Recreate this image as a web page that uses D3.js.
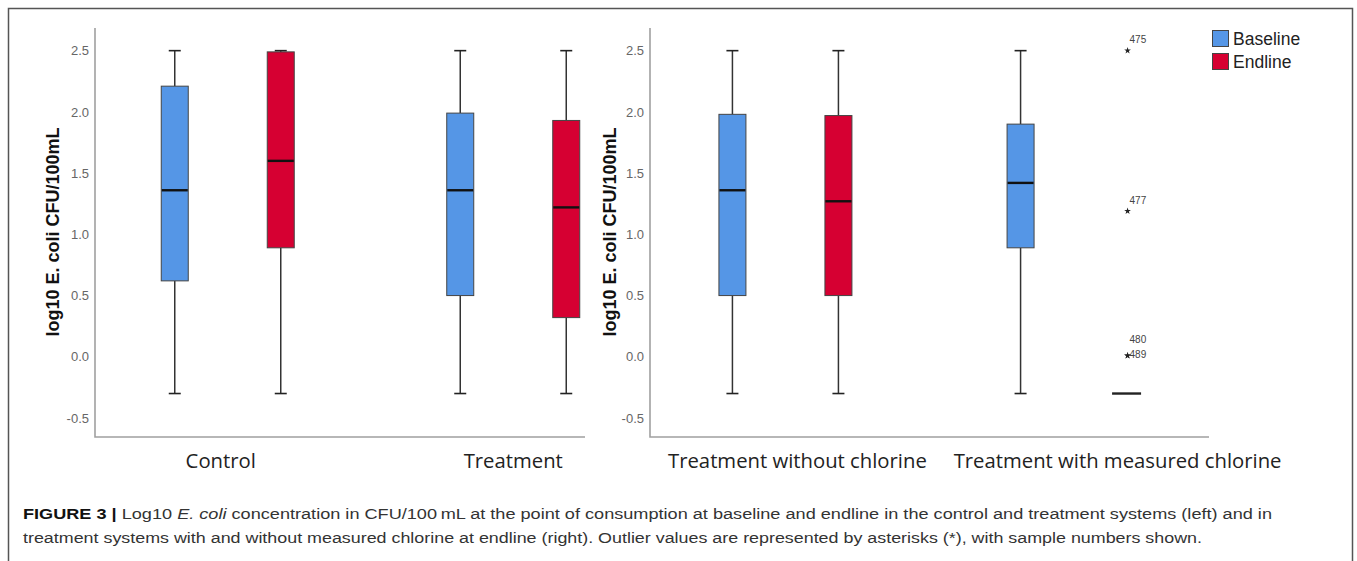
<!DOCTYPE html>
<html>
<head>
<meta charset="utf-8">
<script src="https://cdn.jsdelivr.net/npm/d3@7"></script>
<style>
  html, body { margin: 0; padding: 0; background: #fff; }
  svg { display: block; }
</style>
</head>
<body>
<svg id="chart" width="1357" height="561"></svg>
<script>
// ---------------- data ----------------
const categoriesLeft = ["Control", "Treatment"];
const categoriesRight = ["Treatment without chlorine", "Treatment with measured chlorine"];
const seriesNames = ["Baseline", "Endline"];
const yTicks = [-0.5, 0.0, 0.5, 1.0, 1.5, 2.0, 2.5];
const yTickLabels = ["-0.5", "0.0", "0.5", "1.0", "1.5", "2.0", "2.5"];
// five-number summaries: [min, q1, median, q3, max]
const controlBaseline   = [-0.30, 0.62, 1.36, 2.21, 2.50];
const controlEndline    = [-0.30, 0.89, 1.60, 2.49, 2.50];
const treatmentBaseline = [-0.30, 0.50, 1.36, 1.99, 2.50];
const treatmentEndline  = [-0.30, 0.32, 1.22, 1.93, 2.50];
const noChlorineBaseline = [-0.30, 0.50, 1.36, 1.98, 2.50];
const noChlorineEndline  = [-0.30, 0.50, 1.27, 1.97, 2.50];
const chlorineBaseline   = [-0.30, 0.89, 1.42, 1.90, 2.50];
const chlorineEndline    = [-0.30, -0.30, -0.30, -0.30, -0.30];
const outlierValues = [2.50, 1.19, 0.01, 0.01];
const outlierLabels = ["475", "477", "480", "489"];
const yAxisTitle = "log10 E. coli CFU/100mL";

// ---------------- layout ----------------
const svg = d3.select("#chart");
const colors = { Baseline: "#5596e6", Endline: "#d60032" };

const y = d3.scaleLinear().domain([-0.655, 2.685]).range([437, 28]);
const offset = d3.scalePoint().domain(seriesNames).range([-53, 53]);
const boxW = 27, capW = 12;

// frame
svg.append("path")
  .attr("d", "M8.5,561 V8.5 H1352.5 V561")
  .attr("fill", "none").attr("stroke", "#555").attr("stroke-width", 1.5);

const panels = [
  { cats: categoriesLeft, range: [95, 646], axisEnd: 585, pad: 0.465,
    boxes: [[controlBaseline, controlEndline], [treatmentBaseline, treatmentEndline]],
    labelShift: [-7, 0], titleX: 53 },
  { cats: categoriesRight, range: [650, 1209], axisEnd: 1209, pad: 0.47,
    boxes: [[noChlorineBaseline, noChlorineEndline], [chlorineBaseline, chlorineEndline]],
    labelShift: [12, 44], titleX: 610 }
];

panels.forEach((p, pi) => {
  const x = d3.scalePoint().domain(p.cats).range(p.range).padding(p.pad);
  const g = svg.append("g");
  const x0 = p.range[0];

  // y axis via d3 axis
  const axis = d3.axisLeft(y).tickValues(yTicks)
    .tickFormat((d, i) => yTickLabels[i]).tickSize(0).tickPadding(6);
  const ag = g.append("g").attr("transform", `translate(${x0},0)`).call(axis);
  ag.select(".domain").remove();
  ag.selectAll("text").attr("font-family", "Arial, 'Liberation Sans', sans-serif")
    .attr("font-size", 13).attr("fill", "#666");

  // axis lines
  g.append("path")
    .attr("d", `M${x0},${y.range()[1]} V${y.range()[0]} H${p.axisEnd}`)
    .attr("fill", "none").attr("stroke", "#a0a0a0").attr("stroke-width", 1.6);

  // y title
  g.append("text")
    .attr("transform", `translate(${p.titleX + 6},${232}) rotate(-90)`)
    .attr("text-anchor", "middle")
    .attr("font-family", "Arial, 'Liberation Sans', sans-serif")
    .attr("font-weight", "bold").attr("font-size", 18).attr("fill", "#111")
    .text(yAxisTitle);

  // boxes
  p.cats.forEach((cat, ci) => {
    seriesNames.forEach((s, si) => {
      const st = p.boxes[ci][si];
      const cx = x(cat) + offset(s);
      const [mn, q1, md, q3, mx] = st;
      const bg = g.append("g");
      if (q3 - q1 > 0.001) {
        // whiskers
        bg.append("line").attr("x1", cx).attr("x2", cx).attr("y1", y(mx)).attr("y2", y(q3))
          .attr("stroke", "#333").attr("stroke-width", 1.5);
        bg.append("line").attr("x1", cx).attr("x2", cx).attr("y1", y(q1)).attr("y2", y(mn))
          .attr("stroke", "#333").attr("stroke-width", 1.5);
        bg.append("line").attr("x1", cx - capW / 2).attr("x2", cx + capW / 2)
          .attr("y1", y(mx)).attr("y2", y(mx)).attr("stroke", "#222").attr("stroke-width", 1.6);
        bg.append("line").attr("x1", cx - capW / 2).attr("x2", cx + capW / 2)
          .attr("y1", y(mn)).attr("y2", y(mn)).attr("stroke", "#222").attr("stroke-width", 1.6);
        bg.append("rect").attr("x", cx - boxW / 2).attr("width", boxW)
          .attr("y", y(q3)).attr("height", y(q1) - y(q3))
          .attr("fill", colors[s]).attr("stroke", "#444").attr("stroke-width", 1);
        bg.append("line").attr("x1", cx - boxW / 2 + 0.5).attr("x2", cx + boxW / 2 - 0.5)
          .attr("y1", y(md)).attr("y2", y(md)).attr("stroke", "#111").attr("stroke-width", 2.4);
      } else {
        // degenerate box: single median line
        bg.append("line").attr("x1", cx - 14.5).attr("x2", cx + 14.5)
          .attr("y1", y(md)).attr("y2", y(md)).attr("stroke", "#222").attr("stroke-width", 2.4);
      }
      // outliers for the chlorine endline group
      if (pi === 1 && ci === 1 && s === "Endline") {
        outlierValues.forEach((v, oi) => {
          bg.append("path")
            .attr("d", d3.symbol(d3.symbolStar, 14)())
            .attr("transform", `translate(${cx + 1},${y(v)})`)
            .attr("fill", "#222");
        });
        const lbl = g.append("g").attr("font-family", "Arial, 'Liberation Sans', sans-serif")
          .attr("font-size", 10).attr("fill", "#444");
        outlierLabels.forEach((t, oi) => {
          const v = outlierValues[oi];
          let dy = -11;
          if (t === "480") dy = -16;
          if (t === "489") dy = -1;
          lbl.append("text").attr("x", cx + 3).attr("y", y(v) + dy + 3.5).text(t);
        });
      }
    });
    // category label
    g.append("text")
      .attr("x", x(cat) + p.labelShift[ci]).attr("y", 468)
      .attr("text-anchor", "middle")
      .attr("font-family", "'Open Sans', 'Noto Sans', sans-serif")
      .attr("font-size", 20.3).attr("fill", "#222")
      .text(cat);
  });
});

// legend
const lg = svg.append("g").attr("transform", "translate(1212,30)");
seriesNames.forEach((s, i) => {
  lg.append("rect").attr("x", 0.5).attr("y", i * 23 + 0.5).attr("width", 16).attr("height", 16)
    .attr("fill", colors[s]).attr("stroke", "#444").attr("stroke-width", 1);
  lg.append("text").attr("x", 21).attr("y", i * 23 + 14.5)
    .attr("font-family", "Arial, 'Liberation Sans', sans-serif")
    .attr("font-size", 17.5).attr("fill", "#222").text(s);
});

// caption
const capFont = "'Liberation Sans Narrow', 'Arial Narrow', Arial, 'Liberation Sans', sans-serif";
const l1 = svg.append("text").attr("x", 23).attr("y", 519)
  .attr("font-family", capFont).attr("font-size", 15.5).attr("fill", "#333")
  .attr("textLength", 1249).attr("lengthAdjust", "spacingAndGlyphs");
l1.append("tspan").attr("font-weight", "bold").attr("fill", "#111").text("FIGURE 3 | ");
l1.append("tspan").text("Log10 ");
l1.append("tspan").attr("font-style", "italic").text("E. coli");
l1.append("tspan").text(" concentration in CFU/100\u2009mL at the point of consumption at baseline and endline in the control and treatment systems (left) and in");
svg.append("text").attr("x", 23).attr("y", 543)
  .attr("font-family", capFont).attr("font-size", 15.5).attr("fill", "#333")
  .attr("textLength", 1179).attr("lengthAdjust", "spacingAndGlyphs")
  .text("treatment systems with and without measured chlorine at endline (right). Outlier values are represented by asterisks (*), with sample numbers shown.");
</script>
</body>
</html>
